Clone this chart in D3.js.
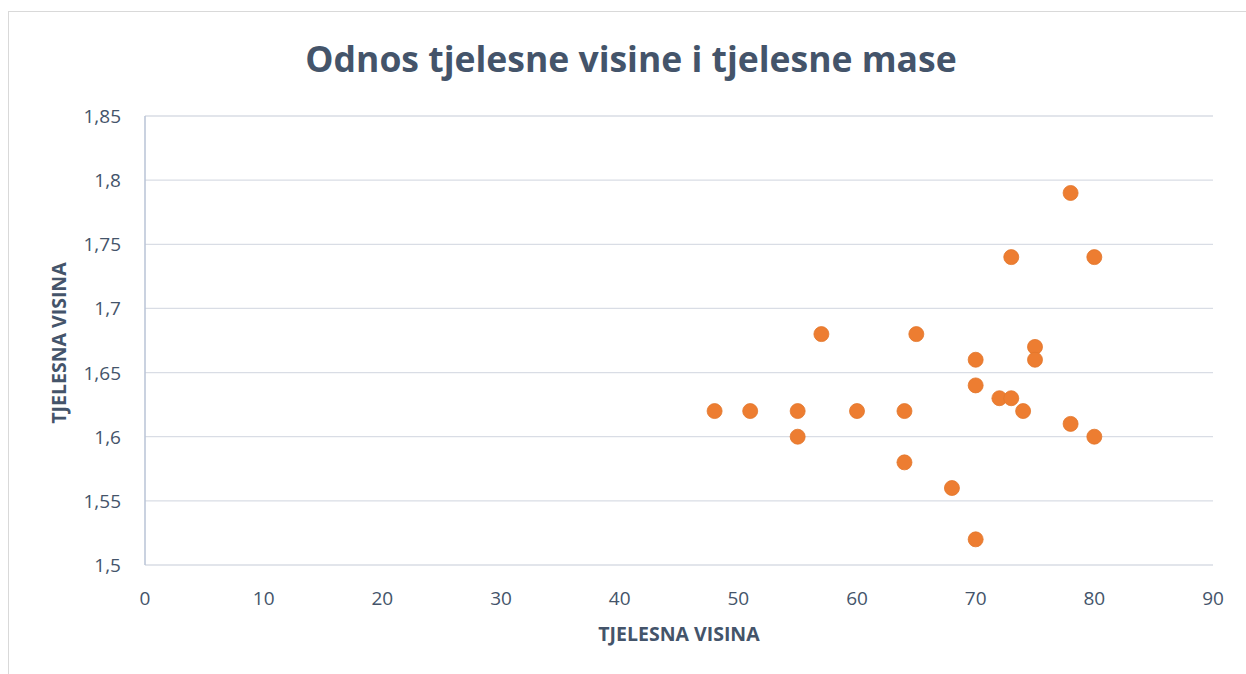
<!DOCTYPE html>
<html>
<head>
<meta charset="utf-8">
<script src="https://cdn.jsdelivr.net/npm/d3@7"></script>
<style>
  body { margin: 0; background: #fff; }
  text { font-family: "Open Sans", "Liberation Sans", sans-serif; fill: #44546a; }
</style>
</head>
<body>
<script>
// tjelesna masa (x) i tjelesna visina (y)
var masa   = [48, 51, 55, 55, 57, 60, 64, 64, 65, 68, 70, 70, 70, 72, 73, 73, 74, 75, 75, 78, 78, 80, 80];
var visina = [1.62, 1.62, 1.62, 1.60, 1.68, 1.62, 1.62, 1.58, 1.68, 1.56, 1.66, 1.64, 1.52, 1.63, 1.63, 1.74, 1.62, 1.67, 1.66, 1.79, 1.61, 1.74, 1.60];
var xTicks = [0, 10, 20, 30, 40, 50, 60, 70, 80, 90];
var yTicks = [1.5, 1.55, 1.6, 1.65, 1.7, 1.75, 1.8, 1.85];

var width = 1246, height = 674;
var svg = d3.select("body").append("svg")
    .attr("width", width)
    .attr("height", height);

// chart frame
svg.append("rect")
    .attr("x", 8.5).attr("y", 11.5)
    .attr("width", 1250).attr("height", 700)
    .attr("fill", "#fff")
    .attr("stroke", "#d9d9d9");

var x = d3.scaleLinear().domain([0, 90]).range([145, 1213]);
var y = d3.scaleLinear().domain([1.5, 1.85]).range([565, 116]);

// gridlines
svg.append("g")
  .selectAll("line")
  .data(yTicks)
  .enter().append("line")
    .attr("x1", x(0)).attr("x2", x(90))
    .attr("y1", function(d) { return y(d); })
    .attr("y2", function(d) { return y(d); })
    .attr("stroke", "#d9dde5")
    .attr("stroke-width", 1.3);

// vertical axis line
svg.append("line")
    .attr("x1", x(0)).attr("x2", x(0))
    .attr("y1", y(1.85)).attr("y2", y(1.5))
    .attr("stroke", "#b8c3d6")
    .attr("stroke-width", 1.5);

var fmt = function(d) { return String(+d.toFixed(2)).replace(".", ","); };

// y tick labels
svg.append("g")
  .selectAll("text")
  .data(yTicks)
  .enter().append("text")
    .attr("x", 121)
    .attr("y", function(d) { return y(d) + 7; })
    .attr("text-anchor", "end")
    .style("font-size", "19px")
    .text(fmt);

// x tick labels
svg.append("g")
  .selectAll("text")
  .data(xTicks)
  .enter().append("text")
    .attr("x", function(d) { return x(d); })
    .attr("y", 605)
    .attr("text-anchor", "middle")
    .style("font-size", "19px")
    .text(function(d) { return d; });

// points
svg.append("g")
  .selectAll("circle")
  .data(masa.map(function(m, i) { return {m: m, v: visina[i]}; }))
  .enter().append("circle")
    .attr("cx", function(d) { return x(d.m); })
    .attr("cy", function(d) { return y(d.v); })
    .attr("r", 7.5)
    .attr("fill", "#ed7d31")
    .attr("stroke", "#e2762b")
    .attr("stroke-width", 0.8);

// title
svg.append("text")
    .attr("x", 631).attr("y", 72)
    .attr("text-anchor", "middle")
    .style("font-size", "35.5px")
    .style("font-weight", "bold")
    .text("Odnos tjelesne visine i tjelesne mase");

// axis titles
svg.append("text")
    .attr("x", 679).attr("y", 641)
    .attr("text-anchor", "middle")
    .style("font-size", "19.5px")
    .style("font-weight", "bold")
    .text("TJELESNA VISINA");

svg.append("text")
    .attr("transform", "translate(66,343) rotate(-90)")
    .attr("text-anchor", "middle")
    .style("font-size", "19.5px")
    .style("font-weight", "bold")
    .text("TJELESNA VISINA");
</script>
</body>
</html>
